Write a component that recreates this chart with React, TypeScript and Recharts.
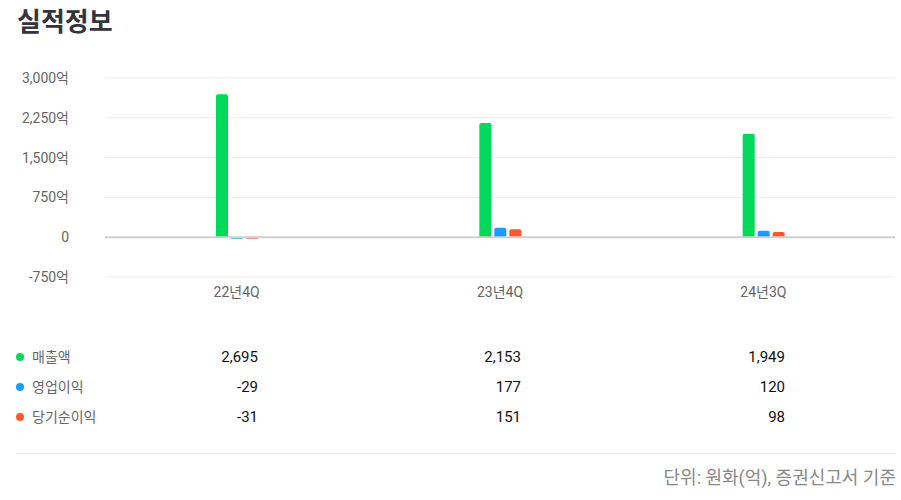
import React from 'react'
import { BarChart, Bar, XAxis, YAxis, CartesianGrid, ReferenceLine } from 'recharts'

const periods = ['22년4Q', '23년4Q', '24년3Q']
const revenue = [2695, 2153, 1949]
const operatingProfit = [-29, 177, 120]
const netIncome = [-31, 151, 98]
const yTicks = [-750, 0, 750, 1500, 2250, 3000]

const series = [
  { key: 'revenue', name: '매출액', color: '#00d95a', values: revenue },
  { key: 'operating', name: '영업이익', color: '#1a9cff', values: operatingProfit },
  { key: 'net', name: '당기순이익', color: '#fa5a2a', values: netIncome },
]

const data = periods.map((p, i) => ({
  period: p,
  revenue: revenue[i],
  operating: operatingProfit[i],
  net: netIncome[i],
}))

const font = "Roboto, 'Noto Sans CJK KR', sans-serif"

const fmtTick = (v: number) => (v === 0 ? '0' : v.toLocaleString('en-US') + '억')

// value columns right edges (match category centers + 21)
const colRight = [258, 521, 785]
const rowY = [357, 387, 417]

export default function App() {
  return (
    <div style={{ position: 'absolute', left: 0, top: 0, width: 901, height: 500, background: '#fff', fontFamily: font }}>
      <div style={{ position: 'absolute', left: 17, top: 3, fontSize: 26, lineHeight: '38px', fontWeight: 700, color: '#33343c' }}>
        실적정보
      </div>

      <div style={{ position: 'absolute', left: 0, top: 0 }}>
        <BarChart
          width={901}
          height={310}
          data={data}
          margin={{ top: 78, right: 6, bottom: 3, left: 0 }}
          barSize={12}
          barGap={3}
        >
          <CartesianGrid vertical={false} stroke="#ececec" />
          <XAxis
            dataKey="period"
            axisLine={false}
            tickLine={false}
            tickSize={0}
            tickMargin={10}
            height={30}
            tick={{ fill: '#666', fontSize: 14, fontFamily: font }}
          />
          <YAxis
            width={105}
            domain={[-750, 3000]}
            ticks={yTicks}
            interval={0}
            axisLine={false}
            tickLine={false}
            tickSize={0}
            tickMargin={36}
            tickFormatter={fmtTick}
            tick={{ fill: '#666', fontSize: 14, fontFamily: font }}
          />
          <ReferenceLine y={0} stroke="#d0d0d0" strokeWidth={2} />
          {series.map((s) => (
            <Bar key={s.key} dataKey={s.key} fill={s.color} radius={[2, 2, 0, 0]} isAnimationActive={false} />
          ))}
        </BarChart>
      </div>

      {series.map((s, r) => (
        <React.Fragment key={s.key}>
          <div
            style={{
              position: 'absolute',
              left: 16,
              top: rowY[r] - 4,
              width: 8,
              height: 8,
              borderRadius: 4,
              background: s.color,
            }}
          />
          <div style={{ position: 'absolute', left: 32, top: rowY[r] - 10, fontSize: 14, lineHeight: '20px', color: '#666' }}>
            {s.name}
          </div>
          {s.values.map((v, c) => (
            <div
              key={c}
              style={{
                position: 'absolute',
                left: colRight[c] - 100,
                width: 100,
                textAlign: 'right',
                top: rowY[r] - 10,
                fontSize: 15,
                lineHeight: '20px',
                color: '#111',
              }}
            >
              {v.toLocaleString('en-US')}
            </div>
          ))}
        </React.Fragment>
      ))}

      <div style={{ position: 'absolute', left: 16, top: 453, width: 880, height: 1, background: '#ececec' }} />
      <div
        style={{
          position: 'absolute',
          right: 5,
          top: 465,
          fontSize: 18,
          lineHeight: '26px',
          color: '#888',
          whiteSpace: 'nowrap',
        }}
      >
        단위: 원화(억), 증권신고서 기준
      </div>
    </div>
  )
}
